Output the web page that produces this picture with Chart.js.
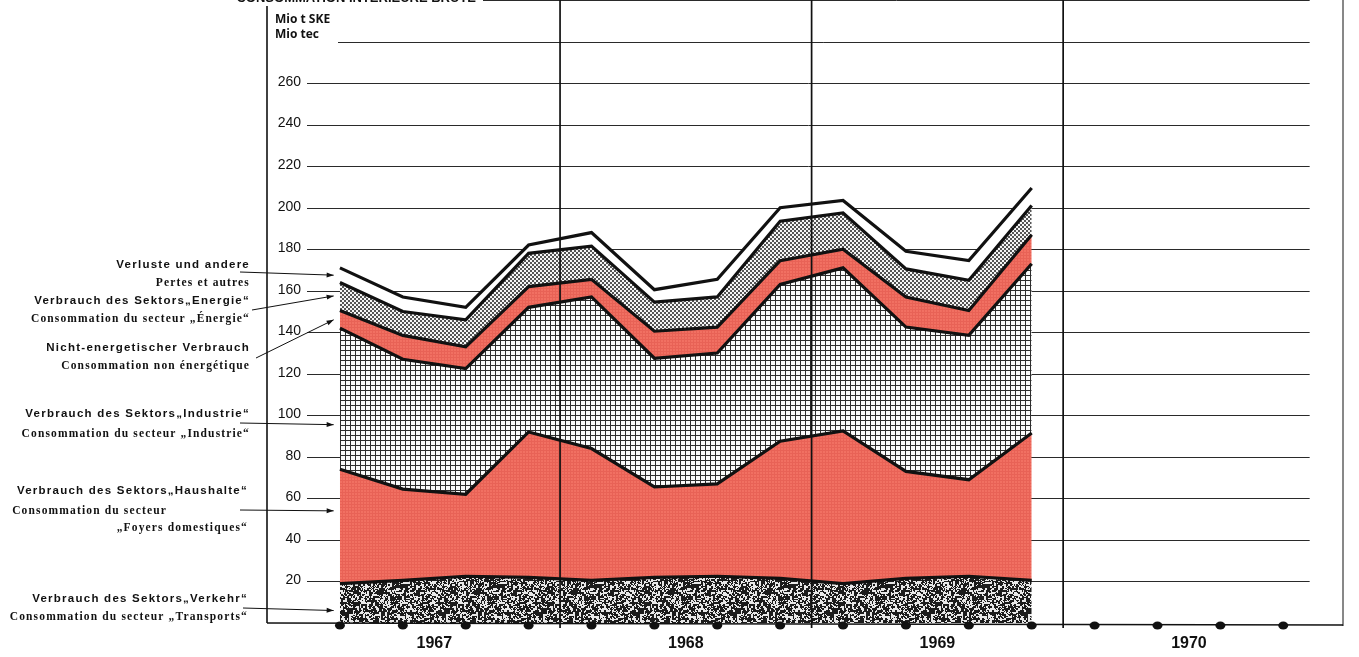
<!DOCTYPE html>
<html><head><meta charset="utf-8">
<script src="https://cdn.jsdelivr.net/npm/chart.js@4.4.1/dist/chart.umd.min.js"></script>
<style>html,body{margin:0;padding:0;background:#fff;overflow:hidden}</style>
</head><body>
<canvas id="c" width="1359" height="657"></canvas>
<script>
// ---- DATA (quarterly, Mio t SKE) ----
const years = ['1967','1968','1969','1970'];
const quarterPositions = [0,1,2,3,4,5,6,7,8,9,10,11,12,13,14,15];
const verkehr          = [19, 20.5, 22.5, 22, 20.5, 22, 22.5, 21.5, 19, 21.5, 22.5, 20.5];
const haushalte        = [55, 44, 39.5, 70, 63.5, 43.5, 44.5, 66, 73.5, 51.5, 46.5, 71];
const industrie        = [68, 62.5, 60.5, 60, 73, 62, 63, 75.5, 78.5, 69.5, 69.5, 81.5];
const nichtEnergetisch = [8.5, 11.5, 10.5, 10, 8.5, 13, 12.5, 11.5, 9, 14.5, 12, 14];
const energie          = [13.5, 11.5, 13, 16, 16, 14, 14.5, 19, 17.5, 13.5, 14.5, 14];
const verluste         = [7, 7, 6, 4, 6.5, 6, 8.5, 6.5, 6, 8.5, 9.5, 8.5];
const yTicks = [20,40,60,80,100,120,140,160,180,200,220,240,260];
const gridValues = [20,40,60,80,100,120,140,160,180,200,220,240,260,280,300];

const canvas = document.getElementById('c');
const ctx = canvas.getContext('2d');

function hash(x,y){ const s=Math.sin(x*127.1+y*311.7)*43758.5453; return s-Math.floor(s); }
function makePattern(w,h,fn){
  const c=document.createElement('canvas'); c.width=w; c.height=h;
  const g=c.getContext('2d'); const img=g.createImageData(w,h);
  for(let y=0;y<h;y++)for(let x=0;x<w;x++){
    const col=fn(x,y); const i=(y*w+x)*4;
    img.data[i]=col[0]; img.data[i+1]=col[1]; img.data[i+2]=col[2]; img.data[i+3]=255;
  }
  g.putImageData(img,0,0);
  return ctx.createPattern(c,'repeat');
}
const patVerkehr = makePattern(97,97,(x,y)=>{
  const p=0.6*hash(x>>1,y>>1)+0.4*hash(x+500,y+1000);
  return p>0.44?[28,28,28]:[232,232,232];
});
const patRed = makePattern(3,3,(x,y)=> (x===0||y===0)?[232,98,86]:[241,112,98]);
const patIndustrie = makePattern(5,5,(x,y)=> (x===0||y===0)?[45,45,45]:[250,250,250]);
const patEnergie = makePattern(4,4,(x,y)=> (((x>>1)+(y>>1))%2===0)?[85,85,85]:[246,246,246]);

const series = [verkehr, haushalte, industrie, nichtEnergetisch, energie, verluste];
const names = ['Verkehr','Haushalte','Industrie','Nicht-energetisch','Energie','Verluste'];
const fills = [patVerkehr, patRed, patIndustrie, patRed, patEnergie, '#ffffff'];

const datasets = series.map((arr,k)=>({
  label: names[k],
  data: arr.map((v,i)=>({x:quarterPositions[i], y:v})),
  fill: k===0 ? 'origin' : '-1',
  backgroundColor: fills[k],
  borderColor: '#111',
  borderWidth: 3.2,
  pointRadius: 0,
  tension: 0
}));

const notes = [
  {t:'Verluste und andere', f:'de', x:250, y:268},
  {t:'Pertes et autres', f:'fr', x:250, y:286},
  {t:'Verbrauch des Sektors\u201eEnergie\u201c', f:'de', x:250, y:304},
  {t:'Consommation du secteur \u201e\u00c9nergie\u201c', f:'fr', x:250, y:322},
  {t:'Nicht-energetischer Verbrauch', f:'de', x:250, y:351},
  {t:'Consommation non \u00e9nerg\u00e9tique', f:'fr', x:250, y:369},
  {t:'Verbrauch des Sektors\u201eIndustrie\u201c', f:'de', x:250, y:417},
  {t:'Consommation du secteur \u201eIndustrie\u201c', f:'fr', x:250, y:437},
  {t:'Verbrauch des Sektors\u201eHaushalte\u201c', f:'de', x:248, y:494},
  {t:'Consommation du secteur', f:'fr', x:167, y:514},
  {t:'\u201eFoyers domestiques\u201c', f:'fr', x:248, y:531},
  {t:'Verbrauch des Sektors\u201eVerkehr\u201c', f:'de', x:248, y:602},
  {t:'Consommation du secteur \u201eTransports\u201c', f:'fr', x:248, y:620}
];
const arrowStarts = [[240,272],[252,310],[256,358],[240,423],[240,510],[243,608]];
const arrowTargets = [167.5, 157.5, 146, 95.5, 54, 6];

const decor = {
  id:'decor',
  beforeDraw(chart){
    const c=chart.ctx; c.save(); c.fillStyle='#fff'; c.fillRect(0,0,chart.width,chart.height); c.restore();
  },
  beforeDatasetsDraw(chart){
    const c=chart.ctx, xs=chart.scales.x, ys=chart.scales.y;
    c.save(); c.strokeStyle='#2a2a2a'; c.lineWidth=1;
    const xEnd = xs.getPixelForValue(15.42);
    gridValues.forEach(v=>{
      const y=Math.round(ys.getPixelForValue(v))+0.5;
      const x0 = v===300?483:(v===280?338:307);
      c.beginPath(); c.moveTo(x0,y); c.lineTo(xEnd,y); c.stroke();
    });
    c.restore();
  },
  afterDatasetsDraw(chart){
    const c=chart.ctx, xs=chart.scales.x, ys=chart.scales.y, a=chart.chartArea;
    const base = ys.getPixelForValue(0);
    c.save();
    c.strokeStyle='#111';
    c.lineWidth=1.7;
    [3.5,7.5,11.5].forEach(q=>{ const x=xs.getPixelForValue(q); c.beginPath(); c.moveTo(x,0); c.lineTo(x,base+5); c.stroke(); });
    c.lineWidth=1.6; c.beginPath(); c.moveTo(a.left,6); c.lineTo(a.left,base); c.stroke();
    c.lineWidth=1; c.beginPath(); c.moveTo(a.right,0); c.lineTo(a.right,base+3); c.stroke();
    c.lineWidth=1.5; c.beginPath(); c.moveTo(a.left,base); c.lineTo(a.right,base+2); c.stroke();
    c.fillStyle='#111';
    quarterPositions.forEach(q=>{ const x=xs.getPixelForValue(q); c.beginPath(); c.ellipse(x,base+2.5,5,4,0,0,Math.PI*2); c.fill(); });
    c.font='14px "Liberation Sans", Arial, sans-serif'; c.textAlign='right'; c.textBaseline='middle';
    yTicks.forEach(v=>{ c.fillText(String(v), 301, ys.getPixelForValue(v)-1); });
    c.font='bold 12px "Open Sans", "DejaVu Sans", sans-serif'; c.textAlign='left'; c.textBaseline='alphabetic';
    c.fillText('Mio t SKE', 275, 23);
    c.fillText('Mio tec', 275, 38);
    c.font='bold 13px "Liberation Sans", Arial, sans-serif'; c.textAlign='right';
    c.fillText('CONSOMMATION INT\u00c9RIEURE BRUTE', 476, 1.5);
    c.font='bold 16px "Liberation Sans Narrow", "Liberation Sans", Arial, sans-serif'; c.textAlign='center';
    years.forEach((yr,k)=>{ c.fillText(yr, xs.getPixelForValue(4*k+1.5), 648); });
    notes.forEach(n=>{
      if(n.f==='de'){ c.font='bold 11.5px "Liberation Sans", Arial, sans-serif'; c.letterSpacing='1.25px'; }
      else { c.font='bold 11.5px "Liberation Serif", "Times New Roman", serif'; c.letterSpacing='1.15px'; }
      c.textAlign='right'; c.fillText(n.t, n.x, n.y);
    });
    c.letterSpacing='0px';
    c.lineWidth=1; c.strokeStyle='#111'; c.fillStyle='#111';
    const ax = xs.getPixelForValue(-0.1);
    arrowStarts.forEach((s,i)=>{
      const ey = ys.getPixelForValue(arrowTargets[i]);
      c.beginPath(); c.moveTo(s[0],s[1]); c.lineTo(ax,ey); c.stroke();
      const ang=Math.atan2(ey-s[1], ax-s[0]);
      c.beginPath(); c.moveTo(ax,ey);
      c.lineTo(ax-7*Math.cos(ang)+2.5*Math.sin(ang), ey-7*Math.sin(ang)-2.5*Math.cos(ang));
      c.lineTo(ax-7*Math.cos(ang)-2.5*Math.sin(ang), ey-7*Math.sin(ang)+2.5*Math.cos(ang));
      c.closePath(); c.fill();
    });
    c.restore();
  }
};

new Chart(canvas, {
  type:'line',
  data:{ datasets },
  options:{
    responsive:false, animation:false, devicePixelRatio:1,
    layout:{ padding:{ left:267, right:16, top:0, bottom:34 } },
    plugins:{ legend:{display:false}, tooltip:{enabled:false} },
    scales:{
      x:{ type:'linear', min:-1.16, max:15.95, display:false },
      y:{ stacked:true, min:0, max:300, display:false }
    }
  },
  plugins:[decor]
});
</script>
</body></html>
